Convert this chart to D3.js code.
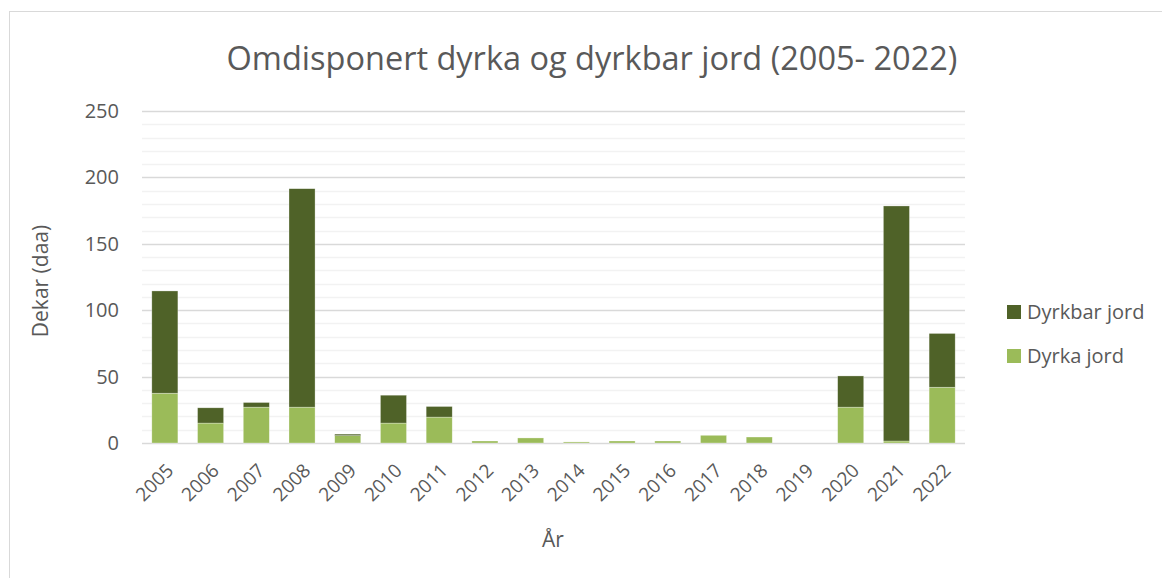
<!DOCTYPE html>
<html>
<meta charset="utf-8">
<style>
  body { margin: 0; background: #fff; }
  text { font-family: "Open Sans", "Noto Sans", sans-serif; fill: #595959; }
</style>
<script src="https://d3js.org/d3.v7.min.js"></script>
<body>
<script>
  var years = ["2005","2006","2007","2008","2009","2010","2011","2012","2013","2014","2015","2016","2017","2018","2019","2020","2021","2022"];
  var dyrka = [37.5, 15, 27, 27, 5.5, 15, 19.5, 1.5, 3.8, 0.8, 1.5, 1.5, 5.8, 4.5, 0, 27, 1.5, 42];
  var dyrkbar = [77, 11.5, 3.5, 164.5, 1.2, 21, 8, 0, 0, 0, 0, 0, 0, 0, 0, 23.5, 177, 40.5];
  var yTicks = [0, 50, 100, 150, 200, 250];
  var seriesNames = ["Dyrka jord", "Dyrkbar jord"];

  var svgWidth = 1162, svgHeight = 578;
  var plotLeft = 142, plotRight = 965, plotTop = 111, plotBottom = 443;

  var svg = d3.select("body").append("svg")
    .attr("width", svgWidth)
    .attr("height", svgHeight);

  // chart frame
  svg.append("rect")
    .attr("x", 9.5).attr("y", 11.5)
    .attr("width", 1200).attr("height", 600)
    .attr("fill", "none").attr("stroke", "#d9d9d9");

  var color = d3.scaleOrdinal(seriesNames, ["#9bbb59", "#4f6228"]);

  var x = d3.scaleBand().domain(years).range([plotLeft, plotRight]).paddingInner(0.43).paddingOuter(0.215);
  var y = d3.scaleLinear().domain([0, 250]).range([plotBottom, plotTop]);

  // minor gridlines
  svg.append("g").selectAll("line")
    .data(d3.range(10, 251, 10).filter(function(d){ return d % 50 != 0; }))
    .enter().append("line")
    .attr("x1", plotLeft).attr("x2", plotRight)
    .attr("y1", function(d){ return Math.round(y(d)) + 0.5; })
    .attr("y2", function(d){ return Math.round(y(d)) + 0.5; })
    .attr("stroke", "#f2f2f2").attr("stroke-width", 1.3);

  // major gridlines
  svg.append("g").selectAll("line")
    .data(yTicks)
    .enter().append("line")
    .attr("x1", plotLeft).attr("x2", plotRight)
    .attr("y1", function(d){ return Math.round(y(d)) + 0.5; })
    .attr("y2", function(d){ return Math.round(y(d)) + 0.5; })
    .attr("stroke", "#d9d9d9").attr("stroke-width", 1.3);

  // y tick labels
  svg.append("g").selectAll("text")
    .data(yTicks)
    .enter().append("text")
    .attr("x", 119)
    .attr("y", function(d){ return y(d); })
    .attr("dy", "0.35em")
    .attr("text-anchor", "end")
    .style("font-size", "20px")
    .text(function(d){ return d; });

  var rows = years.map(function(yr, i){
    return { year: yr, "Dyrka jord": dyrka[i], "Dyrkbar jord": dyrkbar[i] };
  });
  var stack = d3.stack().keys(seriesNames)(rows);

  svg.append("g").selectAll("g")
    .data(stack)
    .enter().append("g")
    .attr("fill", function(d){ return color(d.key); })
    .selectAll("rect")
    .data(function(d){ return d; })
    .enter().append("rect")
    .attr("x", function(d){ return x(d.data.year); })
    .attr("width", x.bandwidth())
    .attr("y", function(d){ return y(d[1]); })
    .attr("height", function(d){ return y(d[0]) - y(d[1]); })
    .attr("stroke", "#ffffff").attr("stroke-width", 0.6).attr("stroke-opacity", 0.5);

  // x tick labels
  svg.append("g").selectAll("text")
    .data(years)
    .enter().append("text")
    .attr("transform", function(d){
      return "translate(" + (x(d) + x.bandwidth()/2 + 5) + ",467) rotate(-45)";
    })
    .attr("text-anchor", "end")
    .attr("dy", "0.35em")
    .style("font-size", "19px")
    .text(function(d){ return d; });

  // axis titles
  svg.append("text")
    .attr("x", 553).attr("y", 547)
    .attr("text-anchor", "middle")
    .style("font-size", "21px")
    .text("År");

  svg.append("text")
    .attr("transform", "translate(48,281) rotate(-90)")
    .attr("text-anchor", "middle")
    .style("font-size", "21px")
    .text("Dekar (daa)");

  // title
  svg.append("text")
    .attr("x", 592).attr("y", 70)
    .attr("text-anchor", "middle")
    .style("font-size", "32.5px")
    .text("Omdisponert dyrka og dyrkbar jord (2005- 2022)");

  // legend
  var legendItems = ["Dyrkbar jord", "Dyrka jord"];
  var legend = svg.append("g").selectAll("g")
    .data(legendItems)
    .enter().append("g")
    .attr("transform", function(d, i){ return "translate(1007," + (305 + i*44) + ")"; });

  legend.append("rect")
    .attr("width", 14).attr("height", 14)
    .attr("fill", function(d){ return color(d); });

  legend.append("text")
    .attr("x", 20).attr("y", 7)
    .attr("dy", "0.35em")
    .style("font-size", "20px")
    .text(function(d){ return d; });
</script>
</body>
</html>
